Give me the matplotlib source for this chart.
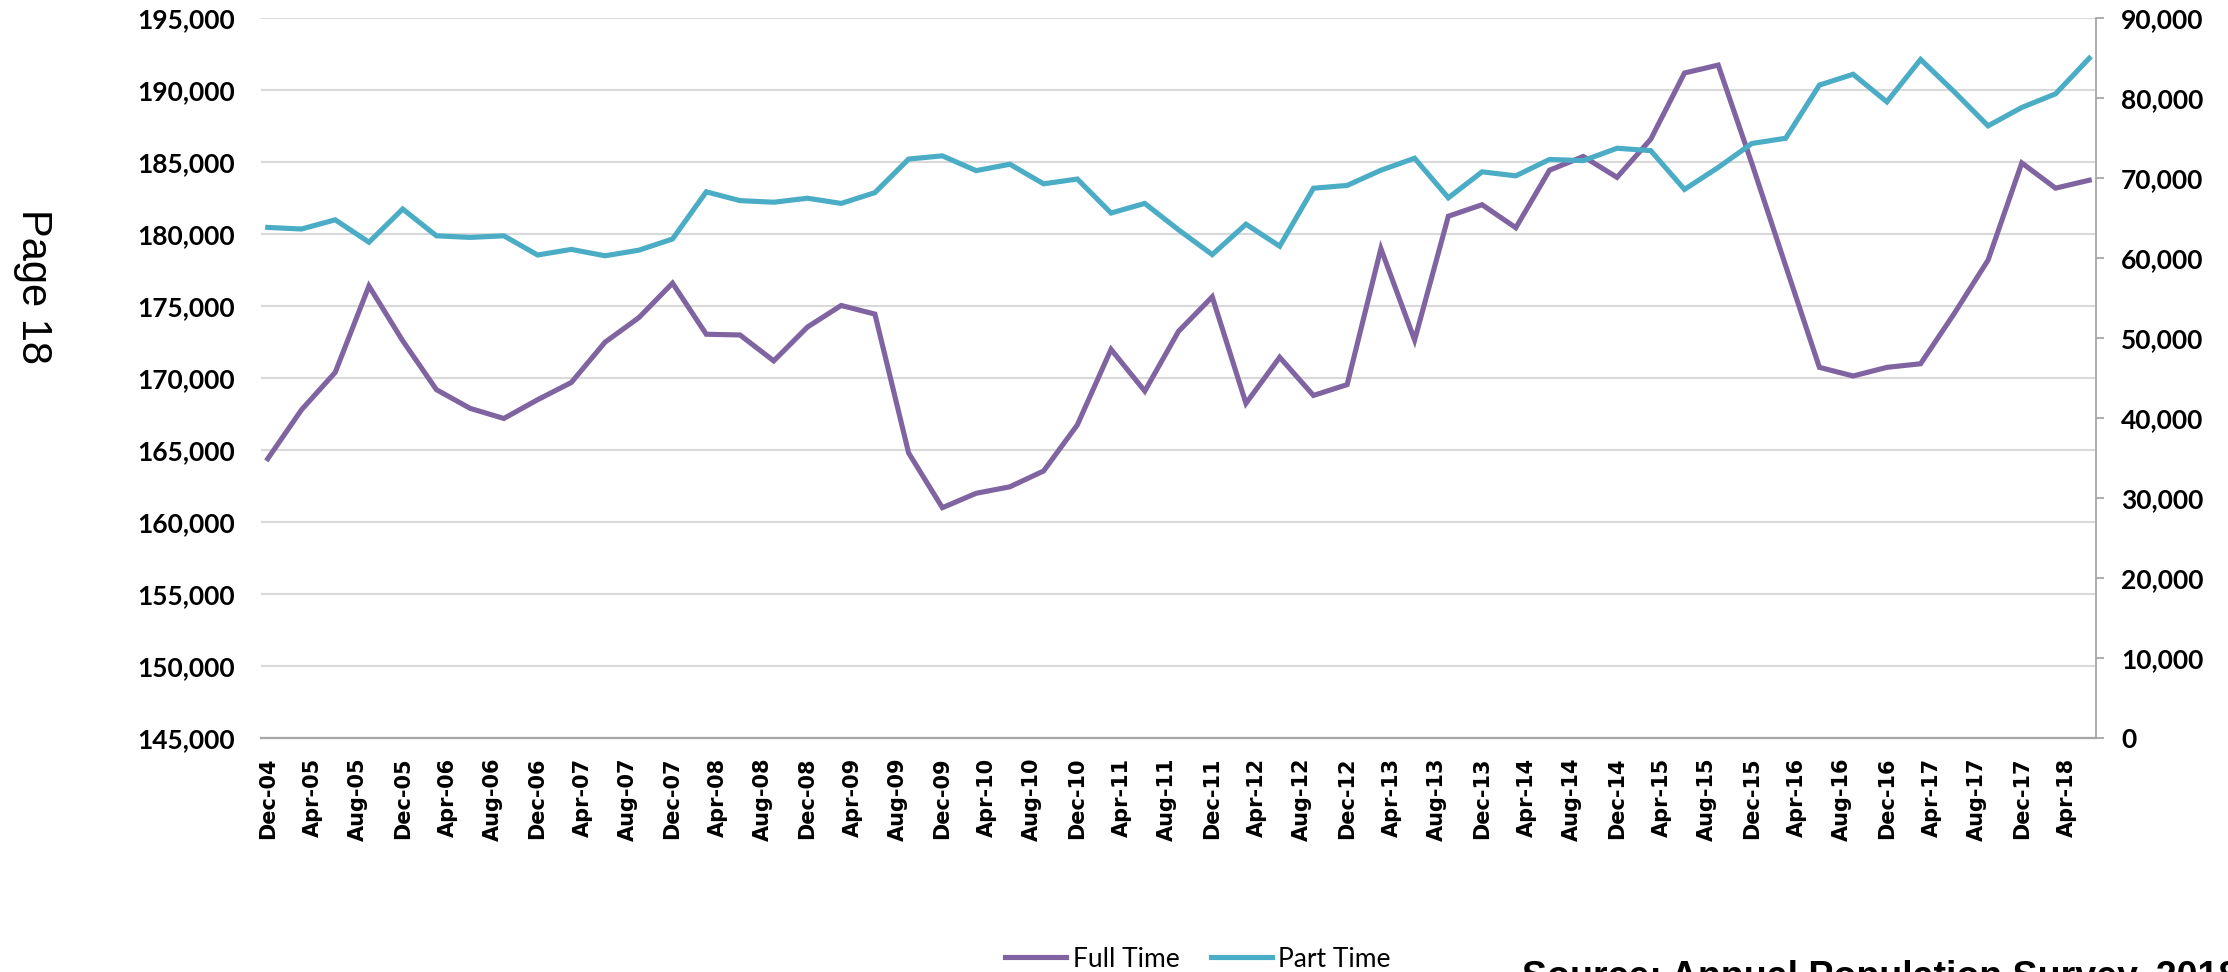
import matplotlib
matplotlib.use("Agg")
import matplotlib.pyplot as plt
import pandas as pd
from matplotlib.ticker import FuncFormatter, MultipleLocator

# ---- data (quarterly, Dec-04 .. Jun-18) ----
quarter_start = "2004-12-01"
quarter_end = "2018-06-01"
full_time = [164400, 167800, 170400, 176400, 172600, 169200, 167900, 167200, 168500, 169700,
             172500, 174200, 176600, 173050, 173000, 171200, 173550, 175050, 174450, 164800,
             161000, 162000, 162450, 163550, 166750, 172000, 169100, 173250, 175650, 168250,
             171450, 168800, 169550, 179000, 172650, 181250, 182050, 180450, 184450, 185400,
             183950, 186600, 191200, 191750, 184900, 177800, 170750, 170150, 170750, 171000,
             174500, 178200, 184950, 183200, 183750]
part_time = [63850, 63650, 64800, 62000, 66150, 62800, 62600, 62800, 60400, 61100,
             60300, 61000, 62400, 68300, 67200, 67000, 67500, 66850, 68200, 72400,
             72800, 70950, 71750, 69300, 69900, 65650, 66850, 63550, 60450, 64250,
             61500, 68750, 69100, 71000, 72500, 67550, 70800, 70300, 72350, 72200,
             73750, 73450, 68600, 71350, 74350, 75000, 81650, 83000, 79550, 84850,
             80800, 76550, 78850, 80550, 85000]
tick_start = "2004-12-01"
tick_end = "2018-04-01"
series_names = ["Full Time", "Part Time"]
page_text = "Page 18"
source_text = "Source: Annual Population Survey, 2018"

dates = pd.date_range(quarter_start, quarter_end, freq="3MS")
months = (dates.year - 2004) * 12 + dates.month - 12
tick_dates = pd.date_range(tick_start, tick_end, freq="4MS")
tick_months = (tick_dates.year - 2004) * 12 + tick_dates.month - 12
tick_labels = [d.strftime("%b-%y") for d in tick_dates]

PURPLE = "#8064A2"
AQUA = "#4BACC6"

fig = plt.figure(figsize=(22.28, 9.72), dpi=100)
ax = fig.add_axes([261 / 2228, 1 - 738 / 972, (2096 - 261) / 2228, (738 - 18.3) / 972])
ax2 = ax.twinx()

l1, = ax.plot(months, full_time, color=PURPLE, lw=3.7, solid_joinstyle="miter", zorder=3)
l2, = ax2.plot(months, part_time, color=AQUA, lw=3.7, solid_joinstyle="miter", zorder=3)

ax.set_xlim(-0.6, 162.6)
ax.set_ylim(145000, 195000)
ax2.set_ylim(0, 90000)
ax.yaxis.set_major_locator(MultipleLocator(5000))
ax2.yaxis.set_major_locator(MultipleLocator(10000))
fmt = FuncFormatter(lambda v, p: f"{int(round(v)):,}")
ax.yaxis.set_major_formatter(fmt)
ax2.yaxis.set_major_formatter(fmt)

ax.set_xticks(tick_months)
ax.set_xticklabels(tick_labels, rotation=90, fontfamily="DejaVu Sans",
                   fontweight="bold", fontsize=15)
ax.tick_params(axis="x", length=0, pad=14)

ax.grid(axis="y", color="#d9d9d9", lw=1.5)
ax.set_axisbelow(True)

for lab in ax.get_yticklabels():
    lab.set_fontfamily("Lato")
    lab.set_fontweight("bold")
    lab.set_fontsize(19)
ax.tick_params(axis="y", length=0, pad=19)
for lab in ax2.get_yticklabels():
    lab.set_fontfamily("Lato")
    lab.set_fontweight("bold")
    lab.set_fontsize(19)
ax2.tick_params(axis="y", direction="out", length=6, width=1.2, color="#a0a0a0", pad=12)

for s in ["left", "top", "right"]:
    ax.spines[s].set_visible(False)
ax.spines["bottom"].set_color("#a6a6a6")
ax.spines["bottom"].set_linewidth(1.6)
for s in ["left", "top", "bottom"]:
    ax2.spines[s].set_visible(False)
ax2.spines["right"].set_color("#a0a0a0")
ax2.spines["right"].set_linewidth(1.2)

fig.legend([l1, l2], series_names, loc="center", bbox_to_anchor=(0.5377, 1 - 959 / 972),
           ncol=2, frameon=False, prop={"family": "Lato", "size": 19},
           handlelength=2.3, handletextpad=0.25, columnspacing=1.2, borderpad=0)

fig.text(0.0148, 1 - 286 / 972, page_text, rotation=-90, ha="center", va="center",
         fontfamily="Liberation Sans", fontsize=30)
fig.text(1522 / 2228, 1 - 960 / 972, source_text, ha="left", va="top",
         fontfamily="Liberation Sans", fontweight="bold", fontsize=27)

fig.savefig("out.png", dpi=100)
